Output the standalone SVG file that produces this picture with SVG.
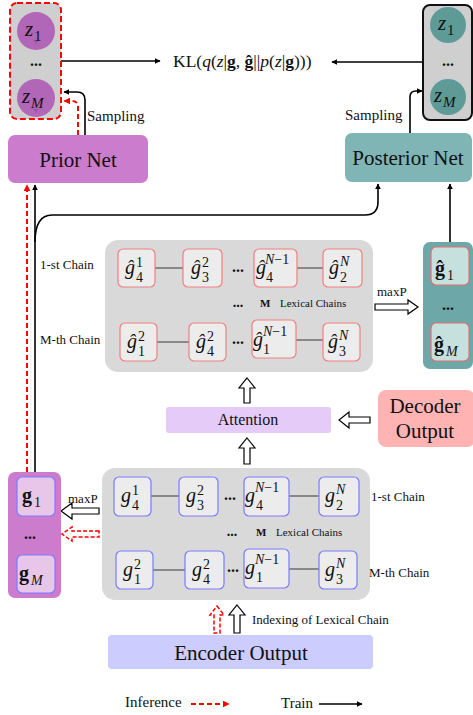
<svg xmlns="http://www.w3.org/2000/svg" width="473" height="715" viewBox="0 0 473 715">
<defs>
<marker id="ah" viewBox="0 0 10 10" refX="9" refY="5" markerWidth="6" markerHeight="6" orient="auto" markerUnits="userSpaceOnUse"><path d="M0,0 L10,5 L0,10 Z" fill="#000"/></marker>
<marker id="ahr" viewBox="0 0 10 10" refX="9" refY="5" markerWidth="7" markerHeight="7" orient="auto" markerUnits="userSpaceOnUse"><path d="M0,0 L10,5 L0,10 Z" fill="#f00"/></marker>
<style>
text{font-family:"Liberation Serif","Times New Roman",serif;fill:#111}
.it{font-style:italic}
.b{font-weight:bold}
.base{font-size:20px;font-style:italic}
.sc{font-size:14px}
.lbl{font-size:13px}
.big{font-size:21px}
.gbox{fill:#d9d9d9}
.rn{fill:#ececec;stroke:#f08080;stroke-width:1.2}
.bn{fill:#ececec;stroke:#7b7bff;stroke-width:1.2}
.link{stroke:#888;stroke-width:2}
.blk{fill:none;stroke:#000;stroke-width:1.6}
.red{fill:none;stroke:#f00;stroke-width:2;stroke-dasharray:5,3}
.hol{fill:#fff;stroke:#000;stroke-width:1.2}
.holr{fill:#fff;stroke:#f00;stroke-width:1.5;stroke-dasharray:4,2}
.dots{font-size:16px;font-weight:bold}
</style>
</defs>

<g id="connectors">
<line class="blk" x1="61" y1="61" x2="160" y2="61" marker-end="url(#ah)"/>
<line class="blk" x1="423" y1="62" x2="332" y2="62" marker-end="url(#ah)"/>
<path class="blk" d="M85,135 L85,100 Q85,92 77,92 L64,92" marker-end="url(#ah)"/>
<path class="red" d="M78,135 L78,107 Q78,101 72,101 L64,101" marker-end="url(#ahr)"/>
<path class="blk" d="M410,133 L410,97 Q410,91 416,91 L422,91" marker-end="url(#ah)"/>
<line class="blk" x1="35" y1="472" x2="35" y2="185" marker-end="url(#ah)"/>
<line class="red" x1="27" y1="472" x2="27" y2="185" marker-end="url(#ahr)"/>
<path class="blk" d="M35,242 Q35,215 52,215 L365,215 Q378,215 378,202 L378,184" marker-end="url(#ah)"/>
<line class="blk" x1="450" y1="242" x2="450" y2="184" marker-end="url(#ah)"/>
<polygon class="hol" points="375,304 408,304 408,300 418,307 408,314 408,310 375,310"/>
<polygon class="hol" points="247,378 255,388 250,388 250,403 244,403 244,388 239,388"/>
<polygon class="hol" points="247,438 255,448 250,448 250,464 244,464 244,448 239,448"/>
<polygon class="hol" points="370,417 349,417 349,412 339,420 349,428 349,423 370,423"/>
<polygon class="hol" points="99,508 72,508 72,503 61,511 72,519 72,514 99,514"/>
<polygon class="holr" points="99,531 72,531 72,527 62,534 72,541 72,537 99,537"/>
<polygon class="hol" points="237,605 245,615 240,615 240,633 234,633 234,615 229,615"/>
<polygon class="holr" points="217,606 224,615 220,615 220,633 214,633 214,615 210,615"/>
</g>

<g id="prior-z">
<rect x="10" y="3" width="51" height="116" rx="7" fill="#cfcfcf" stroke="#f00" stroke-width="2" stroke-dasharray="6,3"/>
<circle cx="36" cy="31" r="19" fill="#b266b8"/>
<polygon points="33,40 39,40 36,44" fill="#9a5aa6"/>
<text x="25" y="36" font-size="21" class="it">z</text><text x="34" y="41" font-size="15">1</text>
<text x="36" y="66" class="dots" text-anchor="middle">...</text>
<circle cx="36" cy="98" r="19" fill="#b266b8"/>
<polygon points="33,109 39,109 36,113" fill="#9a5aa6"/>
<text x="22" y="103" font-size="21" class="it">z</text><text x="31" y="108" font-size="15" class="it">M</text>
</g>

<g id="kl">
<text x="173" y="67" font-size="17.5">KL(<tspan class="it">q</tspan>(<tspan class="it">z</tspan>|<tspan class="b">g</tspan>, <tspan class="b">ĝ</tspan>||<tspan class="it">p</tspan>(<tspan class="it">z</tspan>|<tspan class="b">g</tspan>)))</text>
</g>

<g id="post-z">
<rect x="423" y="5" width="49" height="115" rx="7" fill="#cfcfcf" stroke="#111" stroke-width="2"/>
<circle cx="448" cy="25" r="18" fill="#5e9b97"/>
<text x="438" y="30" font-size="21" class="it">z</text><text x="447" y="35" font-size="15">1</text>
<text x="448" y="66" class="dots" text-anchor="middle">...</text>
<circle cx="448" cy="97" r="18" fill="#5e9b97"/>
<text x="434" y="102" font-size="21" class="it">z</text><text x="443" y="107" font-size="15" class="it">M</text>
</g>

<g id="prior-net">
<rect x="8" y="135" width="140" height="48" rx="7" fill="#cc7ccc"/>
<text x="78" y="167" class="big" text-anchor="middle">Prior Net</text>
<text x="87" y="121" font-size="15">Sampling</text>
</g>

<g id="posterior-net">
<rect x="345" y="133" width="127" height="49" rx="7" fill="#7fb5b5"/>
<text x="408" y="165" class="big" text-anchor="middle">Posterior Net</text>
<text x="345" y="120" font-size="15">Sampling</text>
</g>

<g id="upper-chains">
<rect class="gbox" x="105" y="240" width="268" height="132" rx="13"/>
<line class="link" x1="155" y1="268" x2="183" y2="268"/>
<line class="link" x1="297" y1="268" x2="323" y2="268"/>
<line class="link" x1="157" y1="342" x2="189" y2="342"/>
<line class="link" x1="296" y1="340" x2="323" y2="340"/>
<rect class="rn" x="118" y="249" width="37" height="38" rx="5"/>
<rect class="rn" x="183" y="249" width="39" height="38" rx="5"/>
<rect class="rn" x="254" y="249" width="43" height="38" rx="5"/>
<rect class="rn" x="323" y="249" width="39" height="38" rx="5"/>
<rect class="rn" x="120" y="323" width="37" height="38" rx="5"/>
<rect class="rn" x="189" y="323" width="37" height="38" rx="5"/>
<rect class="rn" x="252" y="320" width="44" height="38" rx="5"/>
<rect class="rn" x="323" y="323" width="37" height="38" rx="5"/>
<text x="125" y="274" class="base">ĝ</text><text x="136" y="267" class="sc">1</text><text x="136" y="282" class="sc">4</text>
<text x="191" y="274" class="base">ĝ</text><text x="202" y="267" class="sc">2</text><text x="202" y="282" class="sc">3</text>
<text x="256" y="274" class="base">ĝ</text><text x="265" y="264" class="sc"><tspan class="it">N</tspan>−1</text><text x="266" y="282" class="sc">4</text>
<text x="329" y="274" class="base">ĝ</text><text x="340" y="266" class="sc it">N</text><text x="340" y="282" class="sc">2</text>
<text x="127" y="348" class="base">ĝ</text><text x="138" y="341" class="sc">2</text><text x="138" y="356" class="sc">1</text>
<text x="196" y="348" class="base">ĝ</text><text x="207" y="341" class="sc">2</text><text x="207" y="356" class="sc">4</text>
<text x="253" y="346" class="base">ĝ</text><text x="263" y="336" class="sc"><tspan class="it">N</tspan>−1</text><text x="263" y="354" class="sc">1</text>
<text x="328" y="348" class="base">ĝ</text><text x="339" y="340" class="sc it">N</text><text x="339" y="356" class="sc">3</text>
<text x="238" y="272" class="dots" text-anchor="middle">...</text>
<text x="238" y="344" class="dots" text-anchor="middle">...</text>
<text x="238" y="307" font-size="14" font-weight="bold" text-anchor="middle">...</text>
<text x="260" y="307" font-size="11" class="b">M</text>
<text x="280" y="307" font-size="11">Lexical Chains</text>
<text x="40" y="269" class="lbl">1-st Chain</text>
<text x="40" y="344" class="lbl">M-th Chain</text>
</g>

<g id="ghat-box">
<rect x="423" y="242" width="50" height="127" rx="7" fill="#6ea7a7"/>
<rect x="431" y="247" width="38" height="38" rx="5" fill="#c6e0de" stroke="#e07070" stroke-width="1.2"/>
<rect x="431" y="323" width="38" height="38" rx="5" fill="#c6e0de" stroke="#e07070" stroke-width="1.2"/>
<text x="435" y="275" font-size="20" class="b">ĝ</text><text x="447" y="280" class="sc">1</text>
<text x="448" y="310" class="dots" text-anchor="middle">...</text>
<text x="434" y="351" font-size="20" class="b">ĝ</text><text x="446" y="356" class="sc it">M</text>
<text x="377" y="296" class="lbl">maxP</text>
</g>

<g id="attention">
<rect x="166" y="407" width="165" height="26" rx="3" fill="#e5cbf8"/>
<text x="248" y="425" font-size="16" text-anchor="middle">Attention</text>
</g>

<g id="decoder-output">
<rect x="378" y="390" width="97" height="57" rx="8" fill="#ffb3b3"/>
<text x="425" y="413" class="big" text-anchor="middle">Decoder</text>
<text x="425" y="438" class="big" text-anchor="middle">Output</text>
</g>

<g id="lower-chains">
<rect class="gbox" x="102" y="468" width="268" height="132" rx="13"/>
<line class="link" x1="151" y1="496" x2="179" y2="496"/>
<line class="link" x1="289" y1="496" x2="319" y2="496"/>
<line class="link" x1="153" y1="570" x2="185" y2="570"/>
<line class="link" x1="289" y1="569" x2="319" y2="569"/>
<rect class="bn" x="114" y="477" width="37" height="39" rx="5"/>
<rect class="bn" x="179" y="477" width="39" height="39" rx="5"/>
<rect class="bn" x="244" y="477" width="45" height="39" rx="5"/>
<rect class="bn" x="319" y="477" width="40" height="39" rx="5"/>
<rect class="bn" x="116" y="551" width="37" height="38" rx="5"/>
<rect class="bn" x="185" y="551" width="39" height="38" rx="5"/>
<rect class="bn" x="244" y="549" width="45" height="39" rx="5"/>
<rect class="bn" x="319" y="551" width="38" height="38" rx="5"/>
<text x="121" y="502" class="base">g</text><text x="132" y="495" class="sc">1</text><text x="132" y="510" class="sc">4</text>
<text x="186" y="502" class="base">g</text><text x="197" y="495" class="sc">2</text><text x="197" y="510" class="sc">3</text>
<text x="245" y="502" class="base">g</text><text x="255" y="492" class="sc"><tspan class="it">N</tspan>−1</text><text x="256" y="510" class="sc">4</text>
<text x="325" y="502" class="base">g</text><text x="336" y="494" class="sc it">N</text><text x="336" y="510" class="sc">2</text>
<text x="123" y="576" class="base">g</text><text x="134" y="569" class="sc">2</text><text x="134" y="584" class="sc">1</text>
<text x="192" y="576" class="base">g</text><text x="203" y="569" class="sc">2</text><text x="203" y="584" class="sc">4</text>
<text x="245" y="574" class="base">g</text><text x="255" y="564" class="sc"><tspan class="it">N</tspan>−1</text><text x="256" y="582" class="sc">1</text>
<text x="325" y="576" class="base">g</text><text x="336" y="568" class="sc it">N</text><text x="336" y="584" class="sc">3</text>
<text x="230" y="500" class="dots" text-anchor="middle">...</text>
<text x="233" y="572" class="dots" text-anchor="middle">...</text>
<text x="232" y="536" font-size="14" font-weight="bold" text-anchor="middle">...</text>
<text x="256" y="536" font-size="11" class="b">M</text>
<text x="276" y="536" font-size="11">Lexical Chains</text>
<text x="371" y="501" class="lbl">1-st Chain</text>
<text x="369" y="577" class="lbl">M-th Chain</text>
</g>

<g id="g-box">
<rect x="8" y="472" width="53" height="126" rx="7" fill="#cc7ccc"/>
<rect x="17" y="477" width="38" height="39" rx="5" fill="#e8c6ea" stroke="#7b7bff" stroke-width="1.2"/>
<rect x="17" y="555" width="38" height="38" rx="5" fill="#e8c6ea" stroke="#7b7bff" stroke-width="1.2"/>
<text x="22" y="502" font-size="20" class="b">g</text><text x="34" y="507" class="sc">1</text>
<text x="30" y="539" class="dots" text-anchor="middle">...</text>
<text x="19" y="580" font-size="20" class="b">g</text><text x="31" y="585" class="sc it">M</text>
<text x="68" y="503" class="lbl">maxP</text>
</g>

<g id="encoder-output">
<rect x="108" y="635" width="265" height="34" rx="4" fill="#ccccff"/>
<text x="241" y="660" class="big" text-anchor="middle">Encoder Output</text>
<text x="252" y="624" class="lbl">Indexing of Lexical Chain</text>
</g>

<g id="legend">
<text x="125" y="707" font-size="15">Inference</text>
<line class="red" x1="191" y1="704" x2="229" y2="704" stroke-dasharray="5,4" marker-end="url(#ahr)"/>
<text x="281" y="708" font-size="15">Train</text>
<line class="blk" x1="319" y1="704" x2="362" y2="704" marker-end="url(#ah)"/>
</g>
</svg>
